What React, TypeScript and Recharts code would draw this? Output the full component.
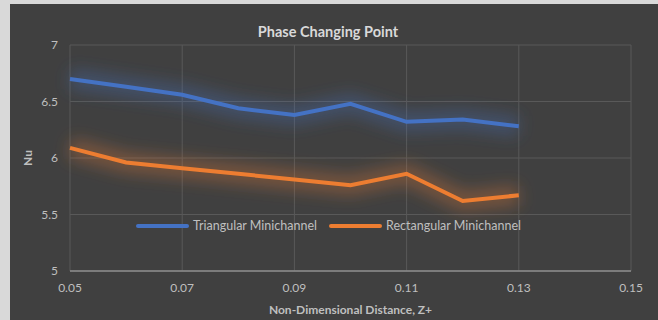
import { LineChart, Line, XAxis, YAxis, CartesianGrid, Legend } from 'recharts';

const xValues = [0.05, 0.06, 0.07, 0.08, 0.09, 0.1, 0.11, 0.12, 0.13];
const triangular = [6.7, 6.63, 6.56, 6.44, 6.38, 6.48, 6.32, 6.34, 6.28];
const rectangular = [6.09, 5.96, 5.91, 5.86, 5.81, 5.76, 5.86, 5.62, 5.67];
const xTicks = [0.05, 0.07, 0.09, 0.11, 0.13, 0.15];
const yTicks = [5, 5.5, 6, 6.5, 7];

const BLUE = '#4472C4';
const ORANGE = '#ED7D31';
const FONT = 'Lato, "Open Sans", sans-serif';

const data = xValues.map((x, i) => ({
  x,
  tri: triangular[i],
  rect: rectangular[i],
}));

const legendItems = [
  { name: 'Triangular Minichannel', color: BLUE },
  { name: 'Rectangular Minichannel', color: ORANGE },
];

function renderLegend() {
  return (
    <div style={{ display: 'flex', paddingLeft: 126, fontFamily: FONT, fontSize: 12.5, color: '#bfbfbf' }}>
      {legendItems.map((item) => (
        <div key={item.name} style={{ display: 'flex', alignItems: 'center', marginRight: 12 }}>
          <div style={{ width: 53, height: 4, borderRadius: 2, background: item.color, marginRight: 4 }} />
          <span>{item.name}</span>
        </div>
      ))}
    </div>
  );
}

export default function App() {
  return (
    <div style={{ position: 'fixed', left: 0, top: 0, width: 658, height: 320, background: '#d9d9d9' }}>
      <svg width={0} height={0} style={{ position: 'absolute' }}>
        <defs>
          <filter id="glow" x="-20%" y="-80%" width="140%" height="260%">
            <feGaussianBlur stdDeviation="8" />
          </filter>
        </defs>
      </svg>
      <div style={{ position: 'absolute', left: 10, top: 4, width: 648, height: 316, background: '#404040' }}>
        <div
          style={{
            position: 'absolute',
            top: 19,
            left: 0,
            width: 636,
            textAlign: 'center',
            fontFamily: FONT,
            fontWeight: 'bold',
            fontSize: 14.5,
            color: '#d9d9d9',
          }}
        >
          Phase Changing Point
        </div>
        <LineChart width={648} height={316} data={data} margin={{ top: 41, right: 27, bottom: 4, left: 12 }}>
          <CartesianGrid stroke="#595959" strokeWidth={1} />
          <XAxis
            dataKey="x"
            type="number"
            domain={[0.05, 0.15]}
            ticks={xTicks}
            height={45}
            tickSize={0}
            tickMargin={12}
            axisLine={{ stroke: '#8c8c8c', strokeWidth: 1.5 }}
            tick={{ fill: '#bfbfbf', fontSize: 12, fontFamily: FONT }}
            label={{
              value: 'Non-Dimensional Distance, Z+',
              position: 'insideBottom',
              offset: 2,
              fill: '#bfbfbf',
              fontSize: 12,
              fontWeight: 'bold',
              fontFamily: FONT,
            }}
          />
          <YAxis
            type="number"
            domain={[5, 7]}
            ticks={yTicks}
            width={48}
            tickSize={0}
            tickMargin={12}
            axisLine={false}
            tick={{ fill: '#bfbfbf', fontSize: 12, fontFamily: FONT }}
            label={{
              value: 'Nu',
              angle: -90,
              position: 'insideLeft',
              offset: 6,
              fill: '#bfbfbf',
              fontSize: 12,
              fontWeight: 'bold',
              fontFamily: FONT,
              style: { textAnchor: 'middle' },
            }}
          />
          <Legend
            layout="horizontal"
            verticalAlign="middle"
            align="center"
            content={renderLegend}
            wrapperStyle={{ top: 214, left: 0, width: 648 }}
          />
          <Line
            dataKey="tri"
            stroke={BLUE}
            strokeWidth={20}
            strokeOpacity={0.32}
            filter="url(#glow)"
            dot={false}
            activeDot={false}
            legendType="none"
            isAnimationActive={false}
          />
          <Line
            dataKey="rect"
            stroke={ORANGE}
            strokeWidth={20}
            strokeOpacity={0.32}
            filter="url(#glow)"
            dot={false}
            activeDot={false}
            legendType="none"
            isAnimationActive={false}
          />
          <Line
            dataKey="tri"
            name="Triangular Minichannel"
            stroke={BLUE}
            strokeWidth={4}
            dot={false}
            isAnimationActive={false}
          />
          <Line
            dataKey="rect"
            name="Rectangular Minichannel"
            stroke={ORANGE}
            strokeWidth={4}
            dot={false}
            isAnimationActive={false}
          />
        </LineChart>
      </div>
    </div>
  );
}
